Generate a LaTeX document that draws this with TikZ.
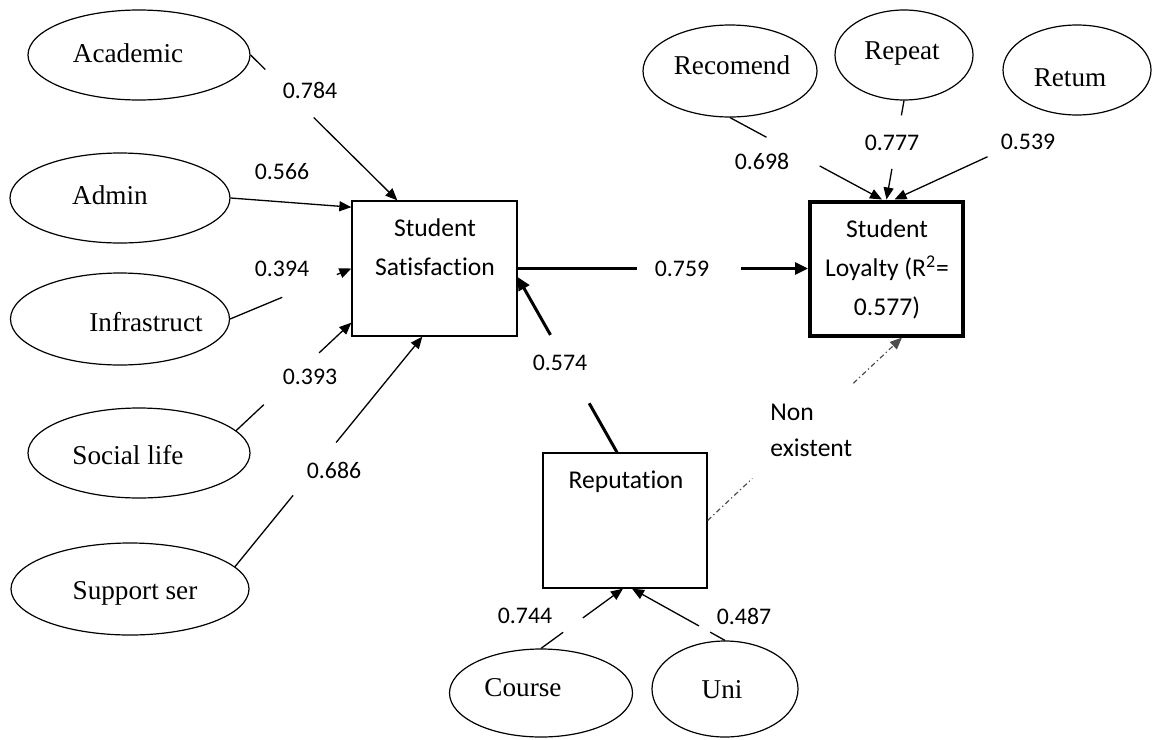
\documentclass[tikz,border=0pt]{standalone}
\usepackage{fontspec}
\setmainfont{Liberation Serif}
\newfontfamily\carlito[Ligatures={NoCommon,NoRequired}]{Carlito}
\usetikzlibrary{shapes.geometric,arrows.meta,calc}
\begin{document}
\begin{tikzpicture}[x=0.5pt,y=-0.5pt,
  lat/.style={ellipse,draw,line width=0.6pt,inner sep=0pt},
  ltext/.style={inner sep=0pt,font=\fontsize{13.6}{16}\selectfont},
  box/.style={rectangle,draw,line width=0.65pt,inner sep=0pt},
  btext/.style={inner sep=0pt,align=center,font=\carlito\fontsize{12.8}{19.5}\selectfont},
  coef/.style={inner sep=0pt,font=\carlito\fontsize{11.9}{14}\selectfont},
  link/.style={line width=0.65pt},
  strong/.style={line width=1.5pt},
  arr/.style={-{Triangle[length=6pt,width=5pt]}},
  bigarr/.style={-{Triangle[length=6.5pt,width=6pt]}},
  weak/.style={line width=0.6pt,black!70,dash pattern=on 2.5pt off 1.5pt on 0.6pt off 1.5pt},
]
\useasboundingbox (0,0) rectangle (1154,739);

% latent indicator ellipses
\node[lat,minimum width=111pt,minimum height=45pt] (acad) at (139,55) {};
\node[ltext] (acadT) at (128,53) {Academic};
\node[lat,minimum width=110pt,minimum height=45pt] (adm) at (120,198) {};
\node[ltext] (admT) at (110,195) {Admin};
\node[lat,minimum width=109.5pt,minimum height=46pt] (inf) at (120,319) {};
\node[ltext] (infT) at (146,322) {Infrastruct};
\node[lat,minimum width=111pt,minimum height=45pt] (soc) at (139,453) {};
\node[ltext] (socT) at (128,455) {Social life};
\node[lat,minimum width=119pt,minimum height=46pt] (sup) at (130,589) {};
\node[ltext] (supT) at (135,593) {Support ser};
\node[lat,minimum width=87pt,minimum height=46pt] (rec) at (730,71) {};
\node[ltext] (recT) at (732,65) {Recomend};
\node[lat,minimum width=69pt,minimum height=45pt] (rpt) at (904,55) {};
\node[ltext] (rptT) at (902,53) {Repeat};
\node[lat,minimum width=74pt,minimum height=45pt] (ret) at (1077,70) {};
\node[ltext] (retT) at (1070,78) {Retum};
\node[lat,minimum width=91.5pt,minimum height=44pt] (crs) at (541,693) {};
\node[ltext] (crsT) at (523,688) {Course};
\node[lat,minimum width=73pt,minimum height=48pt] (uni) at (725,689) {};
\node[ltext] (uniT) at (722,690) {Uni};

% construct boxes
\node[box,minimum width=82.5pt,minimum height=67.5pt] (ss) at (434.5,268.5) {};
\node[btext] (ssT) at (435,247.5) {Student\\Satisfaction};
\node[box,line width=2pt,minimum width=76.5pt,minimum height=67pt] (sl) at (886.5,268.5) {};
\node[btext] (slT) at (887,269) {Student\\Loyalty (R\textsuperscript{2}=\\0.577)};
\node[box,minimum width=82pt,minimum height=67.5pt] (rep) at (625,520.5) {};
\node[btext] (repT) at (626,482) {Reputation};

% end points on the boxes
\coordinate (e1) at ($(ss.north west)+(46,0)$);
\coordinate (e2) at ($(ss.north west)!0.05!(ss.south west)$);
\coordinate (e4) at ($(ss.south west)+(0,-14)$);
\coordinate (e5) at ($(ss.south west)+(71,0)$);
\coordinate (s7) at ($(rep.north)+(-8,0)$);
\coordinate (e7) at ($(ss.east)+(0,8.5)$);
\coordinate (e8) at ($(sl.north)+(-4.5,0)$);
\coordinate (e10) at ($(sl.north)+(8,0)$);
\coordinate (e11) at ($(rep.south)+(-2,0)$);
\coordinate (e12) at ($(rep.south)+(7,0)$);
\coordinate (e13) at ($(sl.south)+(15.5,0)$);

% break points where the coefficients sit
\path (acad.east) -- (e1) coordinate[pos=0.10] (g1a) coordinate[pos=0.43] (g1b);
\path (inf.east) -- (ss.west) coordinate[pos=0.43] (g3a) coordinate[pos=0.88] (g3b);
\path (soc.13) -- (e4) coordinate[pos=0.24] (g4a) coordinate[pos=0.72] (g4b);
\path (sup.12) -- (e5) coordinate[pos=0.31] (g5a) coordinate[pos=0.54] (g5b);
\path (ss.east) -- (sl.west) coordinate[pos=0.41] (g6a) coordinate[pos=0.77] (g6b);
\path (s7) -- (e7) coordinate[pos=0.28] (g7a) coordinate[pos=0.67] (g7b);
\path (rec.south) -- (e8) coordinate[pos=0.24] (g8a) coordinate[pos=0.59] (g8b);
\path (rpt.south) -- (sl.north) coordinate[pos=0.15] (g9a) coordinate[pos=0.69] (g9b);
\path (ret.south) -- (e10) coordinate[pos=0.49] (g10);
\path (crs.north) -- (e11) coordinate[pos=0.27] (g11a) coordinate[pos=0.51] (g11b);
\path (uni.north) -- (e12) coordinate[pos=0.16] (g12a) coordinate[pos=0.28] (g12b);
\path (rep.east) -- (e13) coordinate[pos=0.23] (g13a) coordinate[pos=0.75] (g13b);

% paths into Student Satisfaction
\draw[link] (acad.east) -- (g1a);
\draw[link,arr] (g1b) -- (e1);
\draw[link,arr] (adm.east) -- (e2);
\draw[link] (inf.east) -- (g3a);
\draw[link,arr] (g3b) -- (ss.west);
\draw[link] (soc.13) -- (g4a);
\draw[link,arr] (g4b) -- (e4);
\draw[link] (sup.12) -- (g5a);
\draw[link,arr] (g5b) -- (e5);
\draw[strong] (s7) -- (g7a);
\draw[strong,bigarr] (g7b) -- (e7);

% paths into Student Loyalty
\draw[strong] (ss.east) -- (g6a);
\draw[strong,bigarr] (g6b) -- (sl.west);
\draw[link] (rec.south) -- (g8a);
\draw[link,arr] (g8b) -- (e8);
\draw[link] (rpt.south) -- (g9a);
\draw[link,arr] (g9b) -- (sl.north);
\draw[link,arr] (g10) -- (e10);
\draw[weak] (rep.east) -- (g13a);
\draw[weak,arr] (g13b) -- (e13);

% paths into Reputation
\draw[link] (crs.north) -- (g11a);
\draw[link,arr] (g11b) -- (e11);
\draw[link] (uni.north) -- (g12a);
\draw[link,arr] (g12b) -- (e12);

% coefficients
\node[coef] (c1) at (310,90) {0.784};
\node[coef] (c2) at (282,172) {0.566};
\node[coef] (c3) at (282,269) {0.394};
\node[coef] (c4) at (310,377) {0.393};
\node[coef] (c5) at (334,470) {0.686};
\node[coef] (c6) at (682,269) {0.759};
\node[coef] (c7) at (560,363) {0.574};
\node[coef] (c8) at (762,161) {0.698};
\node[coef] (c9) at (892,143) {0.777};
\node[coef] (c10) at (1028,142) {0.539};
\node[coef] (c11) at (525,616) {0.744};
\node[coef] (c12) at (744,616) {0.487};
\node[btext,align=left,anchor=west,font=\carlito\fontsize{12.8}{18}\selectfont] (ne) at (770,430) {Non\\existent};
\end{tikzpicture}
\end{document}
